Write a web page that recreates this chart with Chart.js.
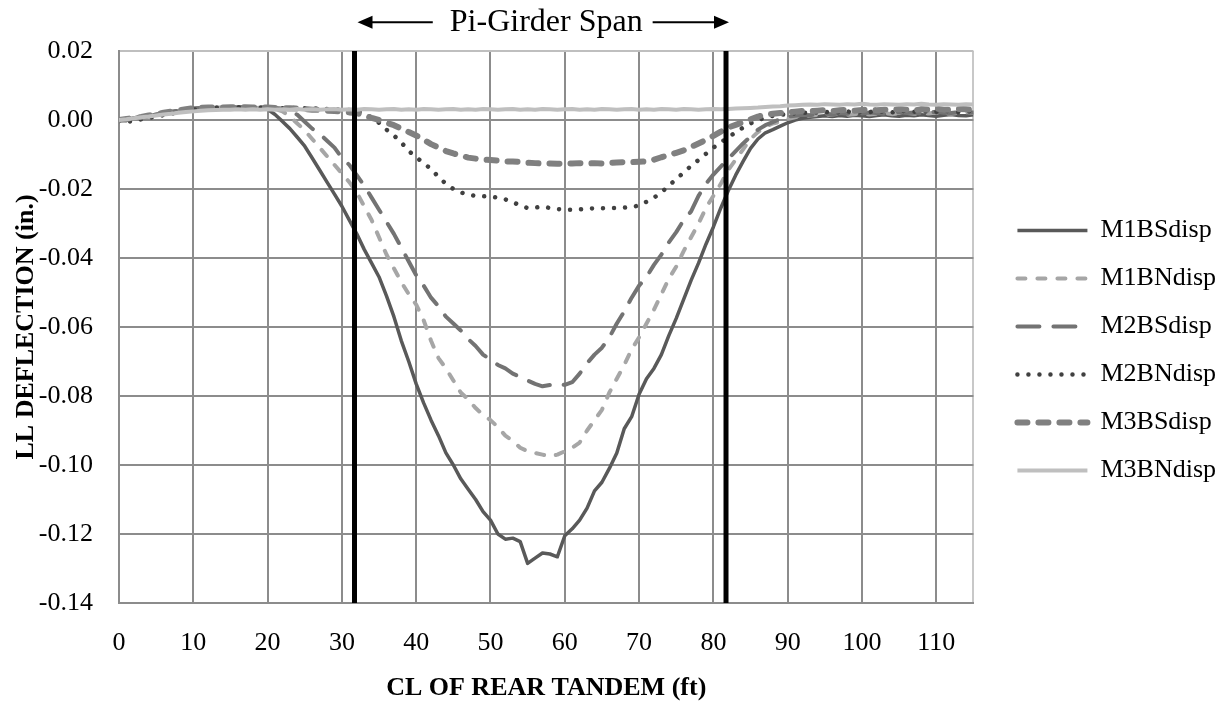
<!DOCTYPE html>
<html>
<head>
<meta charset="utf-8">
<script src="https://cdn.jsdelivr.net/npm/chart.js@4.4.1/dist/chart.umd.min.js"></script>
<style>
  html, body { margin: 0; padding: 0; background: #fff; }
  #wrap { width: 1225px; height: 701px; }
</style>
</head>
<body>
<div id="wrap"><canvas id="deflectionChart"></canvas></div>
<script>
// CL of rear tandem position (ft)
const distance = [
  0, 1, 2, 3, 4, 5, 6, 7, 8, 9, 10, 11, 12, 13, 14, 15, 16, 17, 18, 19, 20,
  21, 22, 23, 24, 25, 26, 27, 28, 29, 30, 31, 32, 33, 34, 35,
  36, 37, 38, 39, 40, 41, 42, 43, 44, 45, 46, 47, 48, 49, 50,
  51, 52, 53, 54, 55, 56, 57, 58, 59, 60,
  61, 62, 63, 64, 65, 66, 67, 68, 69, 70,
  71, 72, 73, 74, 75, 76, 77, 78, 79, 80,
  81, 82, 83, 84, 85, 86, 87, 88, 89, 90,
  91, 92, 93, 94, 95, 96, 97, 98, 99, 100, 101, 102, 103, 104, 105,
  106, 107, 108, 109, 110, 111, 112, 113, 114, 115
];

// live load deflection (in.)
const m1bs = [
  0.0000, -0.0002, 0.0006, 0.0010, 0.0012, 0.0016, 0.0020, 0.0024, 0.0027, 0.0030, 0.0033, 0.0035, 0.0036, 0.0035, 0.0037, 0.0036, 0.0037, 0.0036, 0.0037, 0.0035, 0.0031,
  0.0016, -0.0004, -0.0025, -0.0050, -0.0076, -0.0110, -0.0145, -0.0180, -0.0215, -0.0250, -0.0290, -0.0330, -0.0375, -0.0415, -0.0455,
  -0.0510, -0.0570, -0.0640, -0.0700, -0.0765, -0.0820, -0.0870, -0.0915, -0.0965, -0.1000, -0.1040, -0.1070, -0.1100, -0.1135, -0.1160,
  -0.1200, -0.1215, -0.1212, -0.1222, -0.1285, -0.1270, -0.1255, -0.1258, -0.1266, -0.1205,
  -0.1185, -0.1160, -0.1125, -0.1075, -0.1050, -0.1010, -0.0965, -0.0895, -0.0860, -0.0795,
  -0.0750, -0.0720, -0.0680, -0.0625, -0.0575, -0.0520, -0.0465, -0.0415, -0.0360, -0.0310,
  -0.0255, -0.0205, -0.0160, -0.0120, -0.0082, -0.0055, -0.0037, -0.0028, -0.0018, -0.0008,
  0.0000, 0.0005, 0.0008, 0.0010, 0.0012, 0.0010, 0.0013, 0.0011, 0.0014, 0.0012, 0.0010, 0.0013, 0.0015, 0.0012, 0.0011,
  0.0014, 0.0012, 0.0015, 0.0013, 0.0011, 0.0014, 0.0016, 0.0013, 0.0012, 0.0015
];
const m1bn = [
  0.0000, 0.0002, 0.0004, 0.0008, 0.0011, 0.0015, 0.0019, 0.0022, 0.0026, 0.0029, 0.0032, 0.0034, 0.0035, 0.0036, 0.0035, 0.0036, 0.0036, 0.0035, 0.0036, 0.0035, 0.0035,
  0.0032, 0.0025, 0.0010, -0.0010, -0.0030, -0.0055, -0.0080, -0.0105, -0.0130, -0.0155, -0.0180, -0.0210, -0.0250, -0.0290, -0.0340,
  -0.0390, -0.0430, -0.0470, -0.0505, -0.0535, -0.0580, -0.0640, -0.0690, -0.0720, -0.0755, -0.0790, -0.0810, -0.0835, -0.0855, -0.0870,
  -0.0890, -0.0915, -0.0930, -0.0950, -0.0960, -0.0965, -0.0970, -0.0975, -0.0970, -0.0960,
  -0.0950, -0.0935, -0.0900, -0.0870, -0.0840, -0.0790, -0.0750, -0.0710, -0.0665, -0.0630,
  -0.0590, -0.0550, -0.0505, -0.0460, -0.0425, -0.0380, -0.0340, -0.0300, -0.0255, -0.0220,
  -0.0185, -0.0145, -0.0115, -0.0085, -0.0055, -0.0035, -0.0020, -0.0010, -0.0005, 0.0003,
  0.0008, 0.0010, 0.0013, 0.0015, 0.0014, 0.0016, 0.0018, 0.0015, 0.0017, 0.0019, 0.0016, 0.0018, 0.0020, 0.0017, 0.0019,
  0.0021, 0.0018, 0.0020, 0.0019, 0.0022, 0.0020, 0.0018, 0.0021, 0.0023, 0.0020
];
const m2bs = [
  0.0000, 0.0001, 0.0005, 0.0009, 0.0012, 0.0016, 0.0020, 0.0023, 0.0027, 0.0030, 0.0033, 0.0035, 0.0037, 0.0036, 0.0038, 0.0037, 0.0036, 0.0038, 0.0037, 0.0036, 0.0036,
  0.0035, 0.0033, 0.0028, 0.0015, -0.0005, -0.0025, -0.0040, -0.0060, -0.0080, -0.0110, -0.0130, -0.0160, -0.0190, -0.0225, -0.0260,
  -0.0295, -0.0330, -0.0370, -0.0410, -0.0450, -0.0480, -0.0515, -0.0540, -0.0570, -0.0590, -0.0610, -0.0635, -0.0655, -0.0680, -0.0695,
  -0.0710, -0.0720, -0.0735, -0.0745, -0.0755, -0.0765, -0.0772, -0.0768, -0.0765, -0.0768,
  -0.0760, -0.0735, -0.0705, -0.0680, -0.0660, -0.0630, -0.0590, -0.0555, -0.0515, -0.0480,
  -0.0455, -0.0420, -0.0390, -0.0355, -0.0325, -0.0290, -0.0265, -0.0220, -0.0185, -0.0158,
  -0.0135, -0.0113, -0.0090, -0.0068, -0.0048, -0.0028, -0.0015, -0.0006, 0.0003, 0.0010,
  0.0012, 0.0015, 0.0014, 0.0017, 0.0019, 0.0016, 0.0020, 0.0018, 0.0021, 0.0019, 0.0022, 0.0020, 0.0018, 0.0021, 0.0023,
  0.0020, 0.0022, 0.0019, 0.0021, 0.0024, 0.0021, 0.0020, 0.0023, 0.0021, 0.0022
];
const m2bn = [
  -0.0003, -0.0005, -0.0003, 0.0002, 0.0006, 0.0010, 0.0014, 0.0018, 0.0022, 0.0026, 0.0030, 0.0033, 0.0035, 0.0036, 0.0037, 0.0036, 0.0037, 0.0036, 0.0037, 0.0036, 0.0035,
  0.0035, 0.0034, 0.0035, 0.0034, 0.0034, 0.0033, 0.0033, 0.0032, 0.0031, 0.0030, 0.0029, 0.0026, 0.0018, 0.0007, -0.0008,
  -0.0028, -0.0045, -0.0065, -0.0090, -0.0108, -0.0125, -0.0142, -0.0165, -0.0185, -0.0200, -0.0210, -0.0216, -0.0220, -0.0221, -0.0222,
  -0.0225, -0.0230, -0.0238, -0.0248, -0.0255, -0.0254, -0.0251, -0.0255, -0.0258, -0.0260,
  -0.0260, -0.0259, -0.0257, -0.0256, -0.0256, -0.0255, -0.0255, -0.0254, -0.0252, -0.0248,
  -0.0237, -0.0225, -0.0210, -0.0190, -0.0172, -0.0152, -0.0133, -0.0116, -0.0098, -0.0080,
  -0.0065, -0.0050, -0.0036, -0.0022, -0.0010, 0.0000, 0.0007, 0.0012, 0.0015, 0.0018,
  0.0019, 0.0021, 0.0020, 0.0022, 0.0024, 0.0021, 0.0023, 0.0025, 0.0022, 0.0024, 0.0023, 0.0026, 0.0024, 0.0022, 0.0025,
  0.0027, 0.0024, 0.0023, 0.0026, 0.0024, 0.0027, 0.0025, 0.0023, 0.0026, 0.0025
];
const m3bs = [
  0.0000, 0.0003, 0.0006, 0.0009, 0.0013, 0.0017, 0.0021, 0.0024, 0.0028, 0.0031, 0.0034, 0.0035, 0.0036, 0.0037, 0.0036, 0.0037, 0.0036, 0.0037, 0.0036, 0.0037, 0.0036,
  0.0035, 0.0034, 0.0034, 0.0033, 0.0032, 0.0030, 0.0029, 0.0027, 0.0026, 0.0024, 0.0022, 0.0020, 0.0013, 0.0006, 0.0000,
  -0.0008, -0.0015, -0.0025, -0.0035, -0.0045, -0.0057, -0.0070, -0.0080, -0.0090, -0.0097, -0.0103, -0.0109, -0.0112, -0.0115, -0.0116,
  -0.0118, -0.0120, -0.0120, -0.0122, -0.0124, -0.0125, -0.0126, -0.0126, -0.0127, -0.0126,
  -0.0126, -0.0125, -0.0126, -0.0125, -0.0126, -0.0124, -0.0123, -0.0122, -0.0122, -0.0121,
  -0.0120, -0.0115, -0.0108, -0.0102, -0.0095, -0.0088, -0.0078, -0.0068, -0.0058, -0.0046,
  -0.0034, -0.0022, -0.0014, -0.0006, 0.0002, 0.0010, 0.0015, 0.0018, 0.0020, 0.0022,
  0.0024, 0.0026, 0.0025, 0.0027, 0.0029, 0.0026, 0.0028, 0.0030, 0.0027, 0.0029, 0.0031, 0.0028, 0.0030, 0.0029, 0.0032,
  0.0030, 0.0028, 0.0031, 0.0030, 0.0033, 0.0030, 0.0029, 0.0032, 0.0031, 0.0030
];
const m3bn = [
  0.0000, 0.0002, 0.0005, 0.0008, 0.0010, 0.0013, 0.0016, 0.0018, 0.0021, 0.0023, 0.0025, 0.0027, 0.0028, 0.0029, 0.0030, 0.0030, 0.0031, 0.0030, 0.0031, 0.0030, 0.0031,
  0.0030, 0.0031, 0.0030, 0.0032, 0.0030, 0.0031, 0.0030, 0.0031, 0.0032, 0.0030, 0.0031, 0.0030, 0.0032, 0.0031, 0.0030,
  0.0031, 0.0032, 0.0030, 0.0031, 0.0030, 0.0032, 0.0031, 0.0030, 0.0031, 0.0032, 0.0030, 0.0031, 0.0030, 0.0032, 0.0031,
  0.0030, 0.0031, 0.0032, 0.0030, 0.0031, 0.0030, 0.0032, 0.0031, 0.0030, 0.0031,
  0.0032, 0.0030, 0.0031, 0.0030, 0.0032, 0.0031, 0.0030, 0.0031, 0.0032, 0.0030,
  0.0031, 0.0030, 0.0032, 0.0031, 0.0030, 0.0032, 0.0031, 0.0030, 0.0031, 0.0032,
  0.0031, 0.0032, 0.0033, 0.0034, 0.0035, 0.0036, 0.0038, 0.0039, 0.0040, 0.0042,
  0.0043, 0.0044, 0.0045, 0.0044, 0.0046, 0.0045, 0.0044, 0.0046, 0.0045, 0.0047, 0.0045, 0.0044, 0.0046, 0.0045, 0.0044,
  0.0046, 0.0045, 0.0047, 0.0045, 0.0044, 0.0046, 0.0045, 0.0044, 0.0046, 0.0045
];

// ends of the pi-girder span (ft)
const spanEdges = [31.7, 81.7];
const spanLabel = "Pi-Girder Span";

const xTicks = [0, 10, 20, 30, 40, 50, 60, 70, 80, 90, 100, 110];
const xMax = 115;
const yTicks = [-0.14, -0.12, -0.10, -0.08, -0.06, -0.04, -0.02, 0.00, 0.02];
const yTickLabels = ["-0.14", "-0.12", "-0.10", "-0.08", "-0.06", "-0.04", "-0.02", "0.00", "0.02"];

const serif = "'Liberation Serif', 'Times New Roman', serif";
const titleSize = 32;
const titlePadTop = 3;

Chart.defaults.font.family = serif;
Chart.defaults.color = "#000";

function arrow(ctx, from, to, y) {
  const dir = Math.sign(to - from);
  ctx.beginPath();
  ctx.moveTo(from, y);
  ctx.lineTo(to - dir * 12, y);
  ctx.stroke();
  ctx.beginPath();
  ctx.moveTo(to, y);
  ctx.lineTo(to - dir * 15, y - 6.5);
  ctx.lineTo(to - dir * 15, y + 6.5);
  ctx.closePath();
  ctx.fill();
}

// arrows either side of the span title
const spanArrows = {
  id: "spanArrows",
  afterDraw(chart) {
    const { ctx, chartArea, scales } = chart;
    const y = chart.titleBlock.top + titlePadTop + titleSize * 1.2 / 2;
    ctx.save();
    ctx.font = titleSize + "px " + serif;
    const half = ctx.measureText(spanLabel).width / 2;
    const mid = (chartArea.left + chartArea.right) / 2;
    ctx.strokeStyle = "#000";
    ctx.fillStyle = "#000";
    ctx.lineWidth = 2;
    arrow(ctx, mid - half - 17, scales.x.getPixelForValue(spanEdges[0]) + 3, y);
    arrow(ctx, mid + half + 10, scales.x.getPixelForValue(spanEdges[1]) + 3, y);
    ctx.restore();
  }
};

// nudge the legend a little away from the plot
const legendShift = {
  id: "legendShift",
  afterLayout(chart) {
    chart.legend.left += 22;
    chart.legend.right += 22;
  }
};

function series(label, values, color, width, dash, order) {
  return {
    label: label,
    data: values,
    borderColor: color,
    backgroundColor: color,
    borderWidth: width,
    borderDash: dash,
    borderCapStyle: dash.length ? "round" : "butt",
    borderJoinStyle: "round",
    pointRadius: 0,
    tension: 0,
    fill: false,
    order: order
  };
}

function spanLine(x) {
  return {
    data: [{ x: x, y: yTicks[yTicks.length - 1] }, { x: x, y: yTicks[0] }],
    borderColor: "#000",
    borderWidth: 5,
    pointRadius: 0,
    order: 0
  };
}

new Chart(document.getElementById("deflectionChart"), {
  type: "line",
  data: {
    labels: distance,
    datasets: [
      series("M1BSdisp", m1bs, "#595959", 3.5, [], 6),
      series("M1BNdisp", m1bn, "#a6a6a6", 4, [8, 12], 5),
      series("M2BSdisp", m2bs, "#737373", 4, [22, 14], 4),
      series("M2BNdisp", m2bn, "#404040", 4.5, [0.01, 11], 3),
      series("M3BSdisp", m3bs, "#808080", 6, [10, 11], 2),
      series("M3BNdisp", m3bn, "#bfbfbf", 4, [], 1),
      spanLine(spanEdges[0]),
      spanLine(spanEdges[1])
    ]
  },
  options: {
    responsive: true,
    maintainAspectRatio: false,
    animation: false,
    events: [],
    layout: {
      padding: { top: 0, left: 0, bottom: 0, right: 21 }
    },
    scales: {
      x: {
        type: "linear",
        min: 0,
        max: xMax,
        afterBuildTicks: (scale) => {
          scale.ticks = xTicks.concat([xMax]).map(v => ({ value: v }));
        },
        afterFit: (scale) => { scale.height = 98; },
        ticks: {
          autoSkip: false,
          maxRotation: 0,
          padding: 25,
          font: { size: 26 },
          callback: (v) => xTicks.includes(v) ? String(v) : ""
        },
        grid: {
          drawTicks: false,
          lineWidth: 2,
          color: (c) => c.tick && c.tick.value === xMax ? "#c8c8c8" : "#8c8c8c"
        },
        border: { color: "#8c8c8c", width: 2 },
        title: {
          display: true,
          text: "CL OF REAR TANDEM (ft)",
          font: { size: 26, weight: "bold", lineHeight: 1 },
          padding: { top: 0, bottom: 0 }
        }
      },
      y: {
        min: yTicks[0],
        max: yTicks[yTicks.length - 1],
        afterBuildTicks: (scale) => {
          scale.ticks = yTicks.map(v => ({ value: v }));
        },
        afterFit: (scale) => { scale.width = 119; },
        ticks: {
          padding: 26,
          font: { size: 26 },
          callback: (v, i) => yTickLabels[i]
        },
        grid: {
          drawTicks: false,
          lineWidth: 2,
          color: (c) => c.tick && c.tick.value === yTicks[yTicks.length - 1] ? "#bfbfbf" : "#8c8c8c"
        },
        border: { color: "#8c8c8c", width: 2 },
        title: {
          display: true,
          text: "LL DEFLECTION (in.)",
          font: { size: 26, weight: "bold", lineHeight: 1 },
          padding: { top: 13.7, bottom: 0 }
        }
      }
    },
    plugins: {
      title: {
        display: true,
        text: spanLabel,
        fullSize: false,
        font: { size: titleSize, weight: "normal" },
        padding: { top: titlePadTop, bottom: 9.6 }
      },
      legend: {
        position: "right",
        labels: {
          usePointStyle: true,
          pointStyle: "line",
          pointStyleWidth: 70,
          padding: 22,
          font: { size: 26 },
          filter: (item) => !!item.text,
          sort: (a, b) => a.datasetIndex - b.datasetIndex,
          generateLabels: (chart) => {
            const items = Chart.defaults.plugins.legend.labels.generateLabels(chart);
            return items.map(item => {
              const ds = chart.data.datasets[item.datasetIndex];
              item.lineDash = ds.borderDash || [];
              item.lineCap = ds.borderCapStyle || "butt";
              item.lineWidth = ds.borderWidth;
              return item;
            });
          }
        }
      },
      tooltip: { enabled: false }
    }
  },
  plugins: [spanArrows, legendShift]
});
</script>
</body>
</html>
